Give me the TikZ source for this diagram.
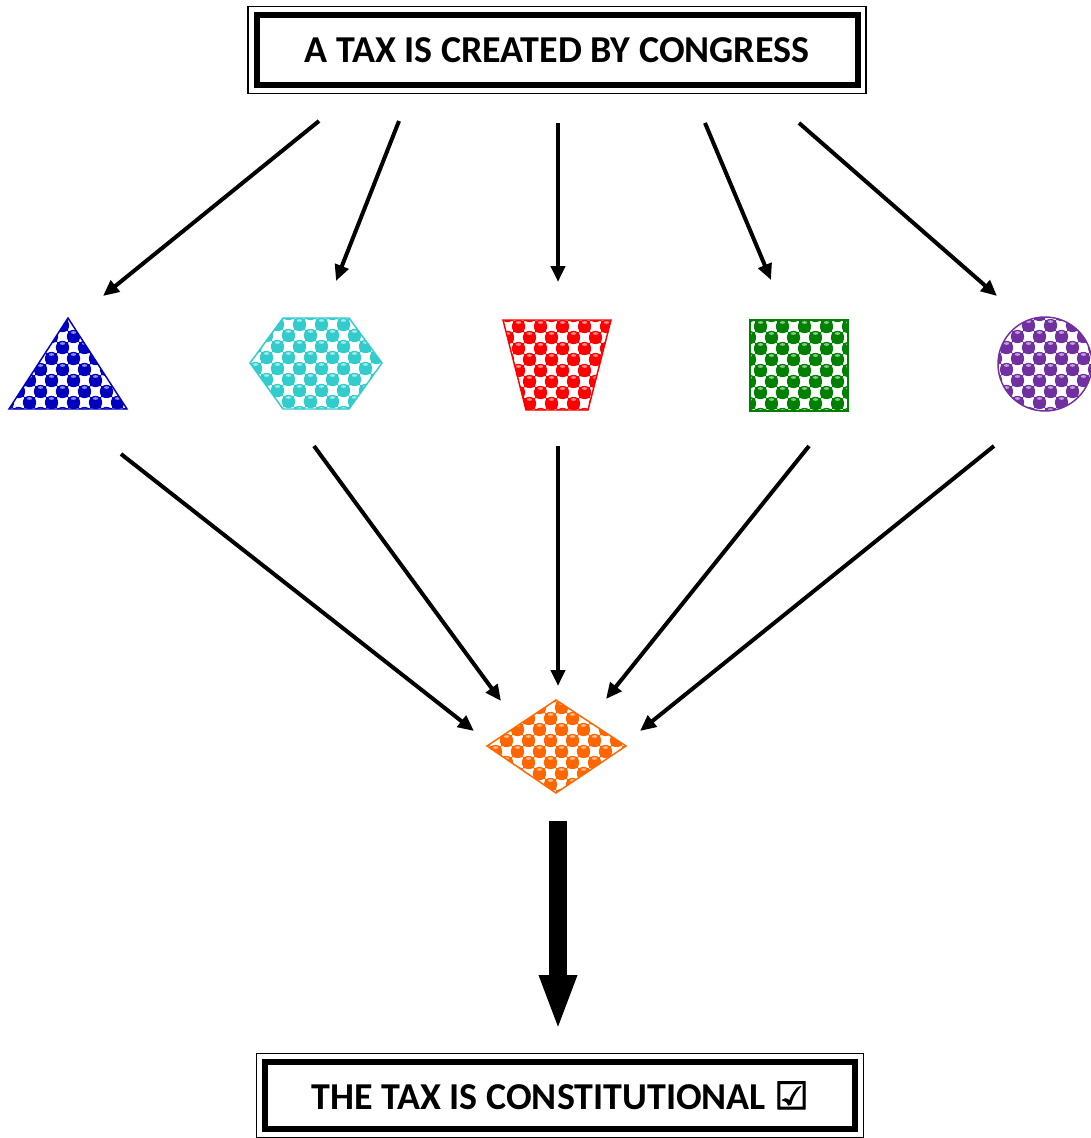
\documentclass[tikz,border=0pt]{standalone}
\usepackage{fontspec}
\setmainfont{Carlito}
\newfontfamily\checkfont[FakeBold=2.5]{DejaVu Sans}
\usetikzlibrary{arrows.meta}
\definecolor{triblue}{RGB}{0,0,190}
\definecolor{hexcyan}{RGB}{51,204,204}
\definecolor{trapred}{RGB}{255,0,0}
\definecolor{sqgreen}{RGB}{0,128,0}
\definecolor{circpurple}{RGB}{112,48,160}
\definecolor{diamorange}{RGB}{255,102,0}
\tikzset{
	taxbox/.style={draw, line width=4.5pt, inner sep=0pt,
			font=\fontsize{28.5}{33}\selectfont\bfseries},
	outerframe/.style={line width=1.1pt},
	thinarrow/.style={line width=3pt, -{Triangle[length=12pt,width=10.5pt]}},
	bigarrow/.style={line width=13.5pt, -{Triangle[length=42pt,width=25.5pt]}},
	rim/.style={line width=1.1pt, line join=miter}
}
% colour, centre x, centre y, path
\newcommand\ballfill[4]{%
	\begin{scope}
		\clip #4;
		\fill[white] #4;
		\foreach \i in {-4,...,3} {
			\foreach \j in {-3,...,3} {
				\fill[#1] ({#2+22*\i},{#3+22*\j}) rectangle +(11,11) ({#2+22*\i+11},{#3+22*\j+11}) rectangle +(11,11);
				\fill[#1] ({#2+22*\i+5.5},{#3+22*\j+5.5}) circle (5pt) ({#2+22*\i+16.5},{#3+22*\j+16.5}) circle (5pt);
				\fill[white!55!#1] ({#2+22*\i+5.5},{#3+22*\j+1.5}) ellipse (2pt and 1pt) ({#2+22*\i+16.5},{#3+22*\j+12.5}) ellipse (2pt and 1pt);
			}
		}
	\end{scope}
	\draw[#1, rim] #4;
}

\begin{document}
\begin{tikzpicture}[x=0.75pt, y=-0.75pt]
	\useasboundingbox (0,0) rectangle (1090,1138);

	\node[taxbox, minimum width=450.75pt, minimum height=52.5pt] (tax) at (557,50) {A TAX IS CREATED BY CONGRESS};
	\draw[outerframe] ([shift={(-5.5,-5.5)}]tax.north west) rectangle ([shift={(5.5,5.5)}]tax.south east);

	\node[taxbox, minimum width=442.5pt, minimum height=50.25pt] (const) at (560,1095.5) {THE TAX IS CONSTITUTIONAL {\checkfont ☑}};
	\draw[outerframe] ([shift={(-5.5,-5.5)}]const.north west) rectangle ([shift={(5.5,5.5)}]const.south east);

	% the five shapes and the diamond
	\ballfill{triblue}{68}{375}{(68,318) -- (127,409) -- (9,409) -- cycle}
	\ballfill{hexcyan}{316}{363}{(283,318) -- (349,318) -- (382,363) -- (349,409) -- (283,409) -- (250,363) -- cycle}
	\ballfill{trapred}{557}{365}{(503,320) -- (611,320) -- (588,410) -- (526,410) -- cycle}
	\ballfill{sqgreen}{799}{365}{(750,320) rectangle (848,411)}
	\ballfill{circpurple}{1045}{364}{(1045,364) circle (35.25pt)}
	\ballfill{diamorange}{556}{746}{(556,700) -- (626,746) -- (556,793) -- (487,746) -- cycle}

	% arrow ends
	\coordinate (out1) at (319,121); \coordinate (in1) at (103,296);
	\coordinate (out2) at (399,121); \coordinate (in2) at (336,281);
	\coordinate (out3) at (558,123); \coordinate (in3) at (558,282);
	\coordinate (out4) at (705,123); \coordinate (in4) at (771,280);
	\coordinate (out5) at (799,123); \coordinate (in5) at (997,296);
	\coordinate (low1) at (121,454); \coordinate (dia1) at (474,731);
	\coordinate (low2) at (314,446); \coordinate (dia2) at (501,701);
	\coordinate (low3) at (558,446); \coordinate (dia3) at (558,686);
	\coordinate (low4) at (809,446); \coordinate (dia4) at (606,699);
	\coordinate (low5) at (994,446); \coordinate (dia5) at (640,731);
	\coordinate (bigtop) at (558,821); \coordinate (bigtip) at (558,1031);

	\foreach \k in {1,...,5} {
		\draw[thinarrow] (out\k) to (in\k);
		\draw[thinarrow] (low\k) to (dia\k);
	}

	\draw[bigarrow] (bigtop) to (bigtip);
\end{tikzpicture}
\end{document}
